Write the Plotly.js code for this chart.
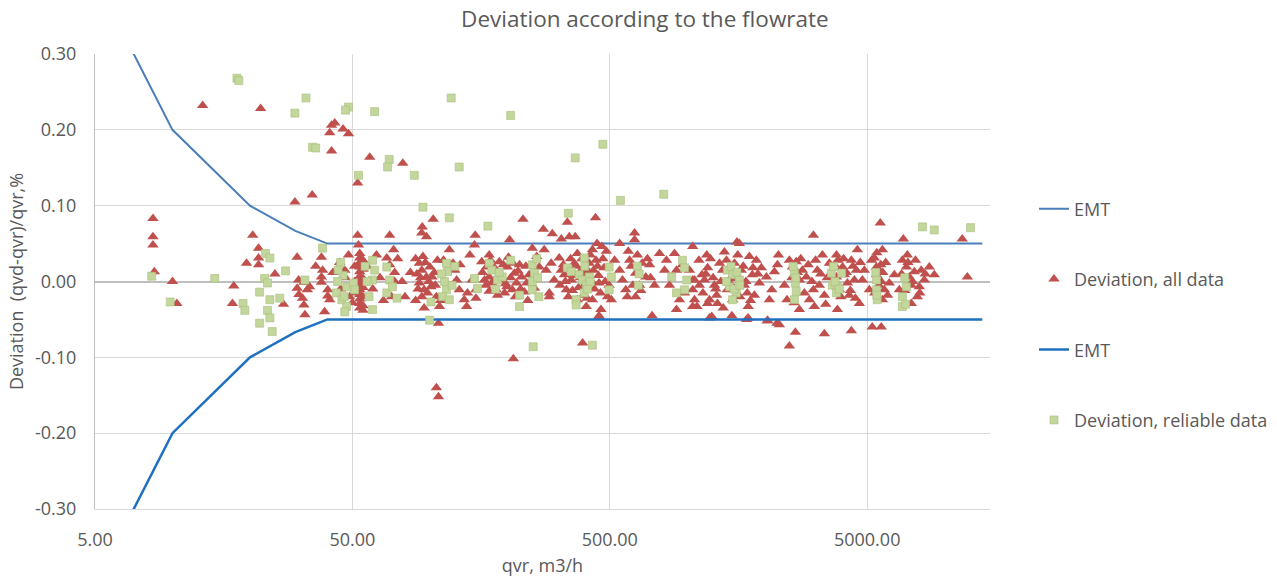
<!DOCTYPE html>
<html>
<head>
<meta charset="utf-8">
<script src="https://cdn.plot.ly/plotly-3.0.1.min.js"></script>
<style>html,body{margin:0;padding:0;background:#fff;}#chart{width:1277px;height:585px;}</style>
</head>
<body>
<div id="chart"></div>
<script>
// EMT limits
const emtQ = [5, 10, 20, 30, 40, 14000];
const emtUpper = [0.4, 0.2, 0.1, 0.0667, 0.05, 0.05];
const emtLower = [-0.4, -0.2, -0.1, -0.0667, -0.05, -0.05];

// Deviation, all data
const allQ = [
  13.1,22,8.4,8.4,8.4,8.5,10.0,10.4,41.5,42.7,
  46,48.3,40.8,41.5,29.9,34.9,58.4,78.5,52.4,20.5,
  19.4,21.6,21.6,21.6,17.3,17.1,30.5,30.9,30.5,31.0,
  32.0,32.4,32.7,33.4,34.1,32.4,37.9,38.3,37.9,37.9,
  40.1,40.1,40.8,48.3,52.4,52.8,53.4,53.4,53.4,53.4,
  53.4,53.4,53.4,53.4,53.4,53.4,53.4,53.4,53.4,55,
  55,55,55,55,55,55,51,51,51,69.8,
  72.3,68,69.8,73,73,71,48.8,50,44.6,46.7,
  93.4,93,97,103,94,91,93,97,91,95,
  93,95,100,102,101,106,109,108,106,108,
  113,123,127,130,136,139,140,146,150,149,
  151,151,170,166,170,174,181,170,181,191,
  199,200,213,217,209,227,238,204,211,230,
  250,260,276,299,324,348,367,342,440,266,
  283,296,291,291,324,339,354,364,374,387,
  416,428,442,446,466,454,428,462,454,405,
  374,392,546,624,624,546,560,577,597,630,
  668,690,630,585,730,454,780,830,892,908,
  933,908,976,1050,1020,1050,1050,116,119,125,
  131,143,159,163,186,195,223,233,243,255,
  278,304,318,333,398,410,475,497,507,522,
  653,714,746,816,853,958,1067,1050,1067,1090,
  1190,1200,1166,1220,1245,1394,1334,1370,1430,1500,
  1594,1525,1550,1710,1725,1725,1310,1200,1743,1855,
  1906,2030,2084,2050,2280,2260,2240,2493,2560,2650,
  2726,2726,2630,2493,3090,2900,3090,3117,2981,3350,
  3565,3800,3800,3830,3409,4340,4010,4190,4340,4540,
  4580,4790,4661,5330,5430,5430,5670,5730,6095,5730,
  5620,5230,5670,6850,7100,7289,7420,7970,7830,7420,
  7160,8110,8716,6910,11700,12250,1560,2230,2050,1700,
  1490,1220,1115,1140,1275,1300,1458,1620,1667,1790,
  1823,1940,2130,2180,2384,2440,2800,3200,3260,3409,
  3500,3727,3898,4076,4262,4457,4874,5097,5200,5574,
  5829,6374,6665,7622,8335,9114,
  88,89,90,92,96,98,99,104,105,107,
  110,88,160,165,172,176,178,183,188,193,
  197,202,206,210,215,220,225,236,240,320,
  330,336,345,352,358,362,370,378,384,390,
  395,402,408,420,425,432,436,448,452,460,
  470,480,485,490,590,605,615,640,660,700,
  720,1110,1150,1180,1230,1260,1290,1350,1380,1420,
  1470,1510,1570,1600,1650,1690,1760,1800,1880,2550,
  2600,2680,2760,2850,2950,3050,3150,3300,3450,3850,
  3950,4050,4150,4300,4400,4500,4700,5350,5450,5550,
  5650,5750,5900,6000,6800,7000,7200,7500,7700,8000,
  8400,25,27,36,39,42,45,47,57,60,
  62,64,66,75,78,80,84
];
const allDev = [
  0.232,0.228,0.083,0.059,0.048,0.013,0.0,-0.029,0.206,0.209,
  0.201,0.195,0.196,0.172,0.105,0.114,0.164,0.156,0.13,0.061,
  0.024,0.044,0.031,0.022,-0.006,-0.029,0.032,0.002,-0.009,-0.017,
  -0.022,-0.031,-0.044,-0.011,-0.007,-0.001,0.032,0.015,0.006,-0.001,
  -0.011,-0.019,-0.024,0.035,0.061,0.048,0.037,0.031,0.025,0.019,
  0.013,0.007,0.001,-0.005,-0.011,-0.017,-0.023,-0.029,-0.035,0.028,
  0.016,0.004,-0.008,-0.02,-0.032,-0.038,0.02,0.0,-0.015,0.061,
  0.042,0.031,0.022,0.012,0.0,-0.02,-0.02,-0.028,0.025,0.015,
  0.072,0.064,0.059,0.082,0.033,0.024,0.015,0.006,-0.002,-0.011,
  -0.02,-0.035,0.019,0.006,-0.007,-0.02,-0.033,-0.055,-0.14,-0.152,
  0.028,0.024,0.002,-0.011,-0.024,-0.033,-0.015,0.002,0.061,0.048,
  -0.011,-0.022,0.035,0.019,0.006,-0.002,-0.011,-0.013,0.015,0.002,
  -0.007,0.019,0.011,-0.002,-0.011,0.006,-0.002,0.055,-0.102,0.082,
  0.044,0.033,0.069,0.063,0.056,0.059,0.059,0.078,0.084,0.019,
  0.015,0.024,-0.015,-0.02,0.015,-0.011,0.002,0.024,0.037,0.015,
  0.024,0.042,0.028,0.05,0.046,-0.002,-0.024,-0.037,-0.046,-0.033,
  -0.024,-0.081,0.05,0.064,0.055,0.015,0.002,-0.011,0.028,0.011,
  0.024,0.006,-0.02,-0.02,-0.045,-0.045,0.037,0.028,0.037,0.015,
  -0.024,-0.037,-0.015,0.046,0.015,0.002,-0.033,0.013,0.042,0.015,
  0.022,0.035,0.026,0.002,0.026,-0.015,0.022,-0.014,0.009,-0.009,
  0.042,0.002,0.031,0.009,-0.005,0.015,0.018,-0.005,-0.024,0.028,
  -0.005,0.022,-0.005,0.015,-0.005,0.022,0.002,-0.011,-0.024,-0.033,
  0.035,0.018,0.002,-0.024,-0.046,0.039,0.024,0.015,-0.011,-0.024,
  0.05,0.024,0.006,-0.015,-0.033,-0.048,-0.029,-0.029,0.033,0.028,
  -0.002,0.006,-0.024,-0.051,-0.057,0.035,0.022,0.028,0.019,0.026,
  0.002,-0.037,-0.067,-0.085,0.061,0.006,-0.011,-0.033,-0.024,0.035,
  0.024,0.035,0.006,-0.037,-0.069,-0.065,0.019,-0.002,0.028,0.015,
  0.042,0.002,-0.029,0.031,0.019,0.009,0.0,-0.024,-0.002,0.042,
  0.077,-0.06,-0.06,0.028,0.019,0.006,-0.005,-0.007,-0.02,-0.029,
  0.035,0.015,0.019,0.056,0.056,0.006,0.052,-0.055,-0.052,-0.05,
  -0.045,-0.048,-0.005,0.009,-0.005,-0.018,-0.001,0.015,-0.005,0.009,
  -0.018,0.018,-0.011,0.013,-0.005,-0.024,0.015,0.015,-0.005,-0.018,
  0.005,0.022,-0.011,0.009,-0.018,0.002,0.015,-0.011,0.028,0.015,
  -0.011,0.009,-0.011,0.013,0.002,0.009,
  0.03,0.01,-0.01,0.005,0.025,-0.015,0.0,0.012,-0.005,0.028,
  -0.025,-0.025,0.012,-0.005,0.028,0.0,0.018,-0.018,0.008,0.022,
  -0.003,0.032,0.005,0.024,-0.02,0.014,-0.01,0.02,-0.025,-0.005,
  0.022,0.0,-0.02,0.03,-0.012,0.008,0.02,-0.008,0.005,0.03,
  -0.018,0.01,-0.022,0.035,0.0,0.015,-0.01,0.02,0.008,-0.015,
  0.03,0.0,0.04,-0.02,0.04,0.02,-0.005,0.035,-0.012,0.03,
  0.005,0.028,-0.015,0.01,0.03,0.005,-0.01,0.0,-0.035,0.028,
  0.004,-0.008,0.035,-0.02,0.02,0.0,-0.025,0.018,0.01,0.005,
  -0.028,0.012,0.03,-0.015,0.022,0.0,0.028,0.01,-0.03,0.028,
  -0.02,0.03,0.012,-0.012,0.02,-0.022,0.025,-0.015,0.038,-0.005,
  0.022,0.012,0.025,-0.018,0.01,-0.012,0.025,0.0,0.028,-0.015,
  0.01,0.01,-0.03,0.02,-0.04,0.012,-0.01,0.005,0.02,-0.01,
  0.035,0.005,-0.025,0.03,0.0,-0.02,0.012
];

// Deviation, reliable data
const relQ = [
  17.8,18.1,33,29.9,48.3,47,61,35,36,69.5,
  68.5,52.8,87,130,94,119,121,206,367,470,
  550,810,345,168,8200,9114,12600,8.3,9.8,14.6,
  23,23.9,27.5,22.8,23.4,21.8,23.9,26.1,18.8,19.1,
  23.4,23.9,21.8,24.4,32.7,38.3,45,46,43.8,47.5,
  43.3,45.5,47.5,46.7,50.5,51,59.9,61,59.9,59.9,
  68,69.8,68,71.5,74.5,116,117,114,116,112,
  119,101,99.7,149,153,170,174,183,191,206,
  223,223,250,255,250,250,252,342,354,380,
  392,405,416,398,370,370,428,398,497,507,
  497,870,958,976,995,976,908,1430,1500,1594,
  1458,1550,1500,2607,2630,2650,2607,3630,3660,3830,
  3980,3800,5430,5430,5470,7100,6850,6850,
  56,57,58,111,122,125,260,262,265,400,
  410,420,640,645,650,1420,1480,1520,1560,1600,
  2580,2640,3700,3750,3900,5400,5450,7000,7050,44,
  46.5,180,186
];
const relDev = [
  0.268,0.265,0.242,0.222,0.23,0.226,0.224,0.177,0.176,0.161,
  0.151,0.14,0.14,0.151,0.098,0.084,0.242,0.219,0.163,0.181,
  0.107,0.115,0.09,0.073,0.072,0.068,0.071,0.007,-0.027,0.004,
  0.037,0.031,0.014,0.004,-0.002,-0.014,-0.024,-0.022,-0.029,-0.038,
  -0.038,-0.048,-0.055,-0.066,0.002,0.044,0.025,0.008,0.0,-0.007,
  -0.015,-0.024,-0.033,-0.04,-0.002,-0.011,0.028,0.015,0.002,-0.037,
  0.019,0.002,-0.015,-0.007,-0.022,0.024,0.013,0.0,-0.011,-0.02,
  -0.024,-0.027,-0.051,0.004,-0.009,0.024,0.015,0.002,0.006,0.028,
  -0.018,-0.033,0.022,0.011,0.0,-0.011,-0.086,0.018,0.013,0.009,
  0.002,-0.005,0.006,-0.015,-0.024,-0.031,-0.084,0.031,0.019,0.006,
  -0.011,0.006,0.028,0.018,0.002,-0.011,-0.015,0.015,0.009,0.002,
  -0.007,-0.015,-0.024,0.011,-0.002,-0.013,-0.024,0.011,-0.005,-0.007,
  0.011,-0.015,0.002,-0.011,-0.024,-0.007,-0.02,-0.033,
  0.02,0.0,-0.02,0.01,-0.005,0.02,0.03,0.005,-0.02,0.02,
  -0.01,0.0,0.02,-0.005,0.01,0.0,0.02,-0.01,0.012,-0.005,
  0.02,0.005,0.02,0.0,-0.01,0.012,-0.018,0.005,-0.03,0.015,
  -0.02,-0.01,0.012
];

// axis ticks
const xTickVals = [5, 50, 500, 5000];
const xTickText = ['5.00', '50.00', '500.00', '5000.00'];
const yTickVals = [-0.3, -0.2, -0.1, 0, 0.1, 0.2, 0.3];
const yTickText = ['-0.30', '-0.20', '-0.10', '0.00', '0.10', '0.20', '0.30'];

const FONT = 'Open Sans, Noto Sans, sans-serif';
const GREY = '#595959';

const traces = [
  {x: emtQ, y: emtUpper, name: 'EMT', type: 'scatter', mode: 'lines',
   line: {color: '#4A7EBB', width: 2}, legendgroup: 'g1', hoverinfo: 'skip'},
  {x: allQ, y: allDev, name: 'Deviation, all data', type: 'scatter', mode: 'markers',
   marker: {symbol: 'triangle-up', size: 10, color: '#C0504D', line: {width: 0}}, legendgroup: 'g2'},
  {x: emtQ, y: emtLower, name: 'EMT', type: 'scatter', mode: 'lines',
   line: {color: '#1F70C0', width: 2.5}, legendgroup: 'g3', hoverinfo: 'skip'},
  {x: relQ, y: relDev, name: 'Deviation, reliable data', type: 'scatter', mode: 'markers',
   marker: {symbol: 'square', size: 8, color: '#C3D69B', line: {width: 0.6, color: '#A8BF7C'}}, legendgroup: 'g4'}
];

const layout = {
  width: 1277, height: 585,
  margin: {l: 95, r: 287, t: 54, b: 76, pad: 0, autoexpand: false},
  paper_bgcolor: '#fff', plot_bgcolor: '#fff',
  font: {family: FONT, color: GREY, size: 18},
  title: {text: 'Deviation according to the flowrate', font: {family: FONT, size: 22.5, color: GREY},
          x: 0.505, xref: 'container', y: 0.968, yref: 'container', yanchor: 'middle'},
  showlegend: true,
  legend: {x: 0.8097, xref: 'container', xanchor: 'left', y: 0.70, yanchor: 'top', tracegroupgap: 44,
           font: {family: FONT, size: 18, color: GREY}, bgcolor: 'rgba(0,0,0,0)', itemwidth: 30},
  xaxis: {type: 'log', range: [Math.log10(5), Math.log10(15000)],
          tickvals: xTickVals, ticktext: xTickText, ticks: '', ticklabelstandoff: 14,
          showgrid: true, gridcolor: '#D9D9D9', gridwidth: 1,
          showline: true, linecolor: '#D9D9D9', linewidth: 1, mirror: false,
          zeroline: false, tickfont: {size: 18, color: GREY},
          title: {text: 'qvr, m3/h', font: {size: 18, color: GREY}, standoff: 9}},
  yaxis: {range: [-0.3, 0.3], tickvals: yTickVals, ticktext: yTickText, ticks: '',
          ticklabelstandoff: 14, showgrid: true, gridcolor: '#D9D9D9', gridwidth: 1,
          zeroline: true, zerolinecolor: '#BFBFBF', zerolinewidth: 2,
          showline: true, linecolor: '#BFBFBF', linewidth: 1,
          tickfont: {size: 18, color: GREY},
          title: {text: 'Deviation\u00A0\u00A0(qvd-qvr)/qvr,%', font: {size: 18, color: GREY}, standoff: 6}}
};

Plotly.newPlot('chart', traces, layout, {displayModeBar: false, responsive: false});
</script>
</body>
</html>
